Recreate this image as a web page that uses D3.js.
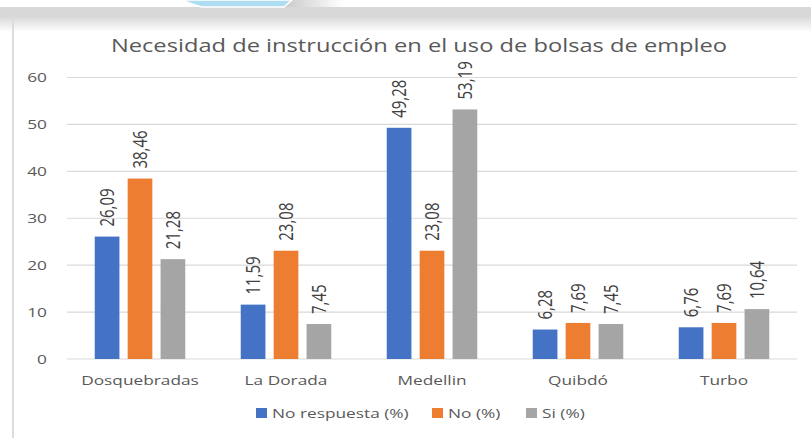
<!DOCTYPE html>
<html>
<head>
<meta charset="utf-8">
<script src="https://cdn.jsdelivr.net/npm/d3@7"></script>
<style>
  body { margin: 0; background: #fff; }
  svg { display: block; font-family: "Open Sans", "Noto Sans", sans-serif; }
</style>
</head>
<body>
<div id="chart"></div>
<script>
const categories = ['Dosquebradas', 'La Dorada', 'Medellin', 'Quibdó', 'Turbo'];
const seriesNames = ['No respuesta (%)', 'No (%)', 'Si (%)'];
const noRespuesta = [26.09, 11.59, 49.28, 6.28, 6.76];
const no = [38.46, 23.08, 23.08, 7.69, 7.69];
const si = [21.28, 7.45, 53.19, 7.45, 10.64];
const yTicks = [0, 10, 20, 30, 40, 50, 60];
const colors = ['#4472c4', '#ed7d31', '#a5a5a5'];

const series = [noRespuesta, no, si];
const width = 811, height = 438;
// the source screenshot is stretched sideways, so text is too
const S = 1.28;

const svg = d3.select('#chart').append('svg')
  .attr('width', width).attr('height', height);

// screenshot frame: gray top band + card edge
const defs = svg.append('defs');
const grad = defs.append('linearGradient').attr('id', 'topfade')
  .attr('x1', 0).attr('y1', 0).attr('x2', 0).attr('y2', 1);
grad.append('stop').attr('offset', '0%').attr('stop-color', '#d6d6d6');
grad.append('stop').attr('offset', '100%').attr('stop-color', '#ffffff');
svg.append('rect').attr('x', 0).attr('y', 7).attr('width', width).attr('height', 9)
  .attr('fill', '#d8d8d8');
svg.append('rect').attr('x', 0).attr('y', 16).attr('width', width).attr('height', 16)
  .attr('fill', 'url(#topfade)');
svg.append('line').attr('x1', 13).attr('x2', 13).attr('y1', 15).attr('y2', height)
  .attr('stroke', '#dcdcdc').attr('stroke-width', 2);
const fade = defs.append('linearGradient').attr('id', 'sidefade');
fade.append('stop').attr('offset', '0%').attr('stop-color', '#c8c8c8');
fade.append('stop').attr('offset', '100%').attr('stop-color', '#ffffff');
svg.append('rect').attr('x', 283).attr('y', 0).attr('width', 60).attr('height', 7)
  .attr('fill', 'url(#sidefade)');
svg.append('path')
  .attr('d', 'M183,0 L292,0 L284,7 L202,7 Q190,4 183,0 Z')
  .attr('fill', '#aedcf0').attr('stroke', '#ffffff').attr('stroke-width', 1.5);

const x = d3.scaleBand().domain(categories).range([67, 797])
  .paddingInner(0.38).paddingOuter(0.19);
const xs = d3.scaleBand().domain(d3.range(series.length)).range([0, x.bandwidth()])
  .paddingInner(0.25);
const y = d3.scaleLinear().domain([0, 60]).range([359, 77.5]);

// title
svg.append('text')
  .attr('transform', `translate(419,52) scale(${S},1)`)
  .attr('text-anchor', 'middle')
  .attr('font-size', 18.5).attr('fill', '#595959')
  .text('Necesidad de instrucción en el uso de bolsas de empleo');

// grid
svg.append('g').selectAll('line').data(yTicks).join('line')
  .attr('x1', 67).attr('x2', 797)
  .attr('y1', d => y(d)).attr('y2', d => y(d))
  .attr('stroke', '#d9d9d9').attr('stroke-width', 1.2);

// y axis labels
const yAxis = svg.append('g').attr('transform', 'translate(47,0)')
  .call(d3.axisLeft(y).tickValues(yTicks).tickSize(0).tickPadding(0));
yAxis.select('.domain').remove();
yAxis.selectAll('text').attr('font-size', 13.5).attr('fill', '#595959')
  .attr('font-family', '"Open Sans", sans-serif')
  .attr('transform', `scale(${S},1)`);

// x axis labels
const xAxis = svg.append('g').attr('transform', 'translate(0,359)')
  .call(d3.axisBottom(x).tickSize(0).tickPadding(16));
xAxis.select('.domain').remove();
xAxis.selectAll('text').attr('font-size', 13.5).attr('fill', '#595959')
  .attr('font-family', '"Open Sans", sans-serif')
  .attr('transform', `scale(${S},1)`);

// bars
const groups = svg.append('g').selectAll('g').data(categories).join('g')
  .attr('transform', d => `translate(${x(d)},0)`);

groups.selectAll('rect')
  .data((c, i) => series.map((s, k) => ({ k, v: s[i] })))
  .join('rect')
  .attr('x', d => xs(d.k))
  .attr('width', xs.bandwidth())
  .attr('y', d => y(d.v))
  .attr('height', d => y(0) - y(d.v))
  .attr('fill', d => colors[d.k]);

const fmt = v => d3.format('.2f')(v).replace('.', ',');
groups.selectAll('text.lbl')
  .data((c, i) => series.map((s, k) => ({ k, v: s[i] })))
  .join('text').attr('class', 'lbl')
  .attr('transform', d => `translate(${xs(d.k) + xs.bandwidth() / 2},${y(d.v) - 10}) scale(${S},1) rotate(-90)`)
  .attr('dy', '0.35em')
  .attr('font-size', 15).attr('fill', '#404040')
  .text(d => fmt(d.v));

// legend
const legendX = [256, 432, 526];
const legend = svg.append('g').selectAll('g').data(seriesNames).join('g')
  .attr('transform', (d, i) => `translate(${legendX[i]},418)`);
legend.append('rect').attr('x', 0).attr('y', -10).attr('width', 11).attr('height', 10)
  .attr('fill', (d, i) => colors[i]);
legend.append('text').attr('transform', `translate(16,0) scale(${S},1)`)
  .attr('font-size', 13.5).attr('fill', '#595959').text(d => d);
</script>
</body>
</html>
